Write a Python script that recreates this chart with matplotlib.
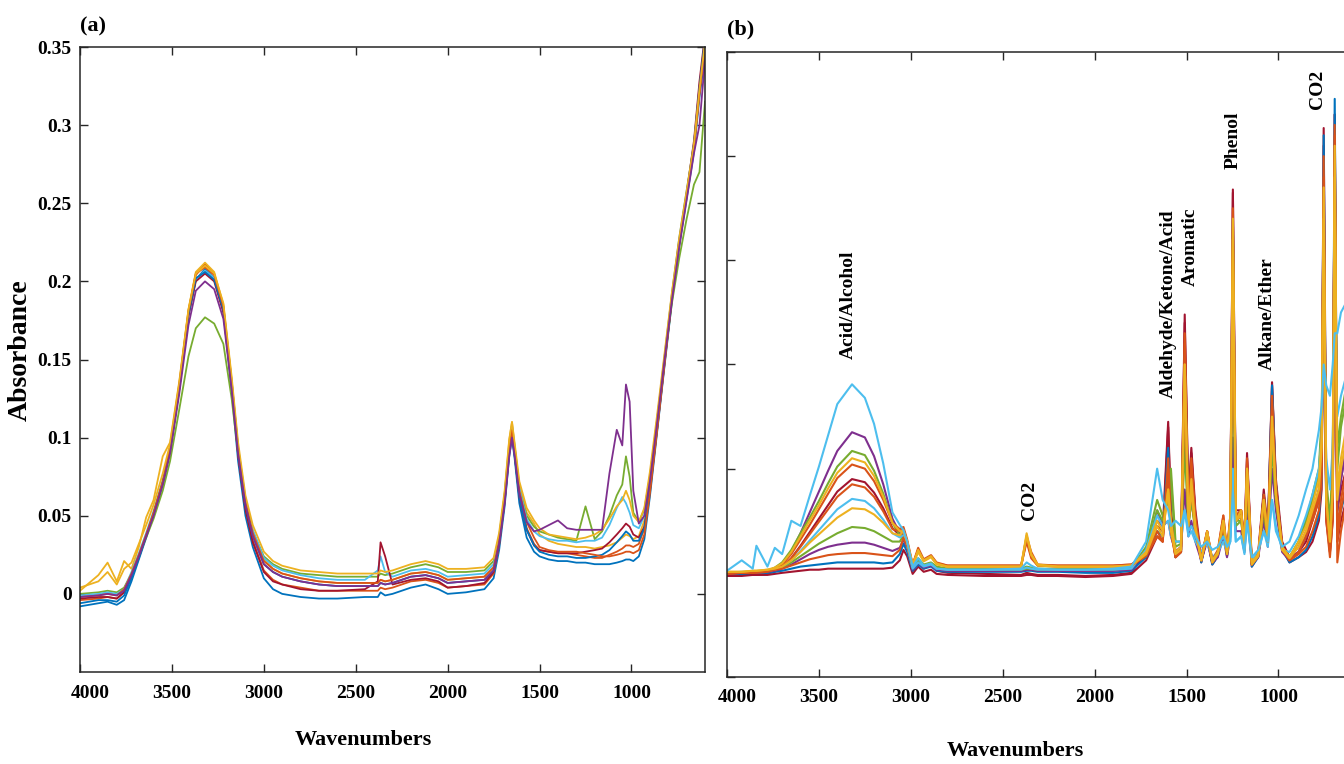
import matplotlib
matplotlib.use("Agg")
import matplotlib.pyplot as plt
from matplotlib.transforms import ScaledTranslation

plt.rcParams['font.family'] = ['Liberation Serif', 'DejaVu Serif']
plt.rcParams['font.weight'] = 'bold'

# ---------------- Panel (a) data ----------------
wn_a = [4000, 3900, 3850, 3800, 3760, 3720, 3680, 3640, 3600, 3550,
        3510, 3460, 3410, 3370, 3320, 3270, 3220, 3175, 3140, 3100,
        3060, 3000, 2950, 2900, 2800, 2700, 2600, 2450, 2380, 2365,
        2340, 2300, 2200, 2120, 2050, 2000, 1900, 1800, 1750, 1720,
        1690, 1665, 1650, 1635, 1610, 1570, 1530, 1500, 1450, 1400,
        1350, 1300, 1250, 1200, 1160, 1120, 1080, 1050, 1030, 1010,
        990, 960, 930, 900, 860, 820, 780, 740, 700, 660,
        630, 600]

a_blue1 = [-0.008, -0.006, -0.005, -0.007, -0.004, 0.008, 0.022, 0.036, 0.050, 0.070,
           0.091, 0.131, 0.178, 0.201, 0.208, 0.202, 0.181, 0.130, 0.085, 0.050,
           0.030, 0.010, 0.003, 0.000, -0.002, -0.003, -0.003, -0.002, -0.002, 0.001,
           -0.001, 0.000, 0.004, 0.006, 0.003, 0.000, 0.001, 0.003, 0.010, 0.028,
           0.056, 0.088, 0.100, 0.086, 0.058, 0.036, 0.027, 0.024, 0.022, 0.021,
           0.021, 0.020, 0.020, 0.019, 0.019, 0.019, 0.020, 0.021, 0.022, 0.022,
           0.021, 0.024, 0.035, 0.062, 0.104, 0.146, 0.187, 0.223, 0.253, 0.283,
           0.318, 0.345]
a_orange1 = [-0.004, -0.003, -0.002, -0.003, 0.001, 0.012, 0.024, 0.037, 0.051, 0.071,
             0.092, 0.132, 0.180, 0.204, 0.211, 0.205, 0.183, 0.134, 0.090, 0.055,
             0.034, 0.015, 0.009, 0.006, 0.004, 0.002, 0.002, 0.002, 0.002, 0.004,
             0.003, 0.004, 0.008, 0.009, 0.007, 0.004, 0.005, 0.006, 0.013, 0.031,
             0.059, 0.092, 0.104, 0.090, 0.063, 0.042, 0.032, 0.028, 0.027, 0.026,
             0.026, 0.025, 0.024, 0.023, 0.023, 0.025, 0.027, 0.029, 0.031, 0.031,
             0.030, 0.032, 0.042, 0.067, 0.108, 0.150, 0.190, 0.226, 0.256, 0.286,
             0.322, 0.352]
a_yellow1 = [0.002, 0.012, 0.020, 0.008, 0.021, 0.016, 0.030, 0.049, 0.060, 0.088,
             0.097, 0.136, 0.182, 0.206, 0.212, 0.206, 0.185, 0.137, 0.094, 0.060,
             0.040, 0.022, 0.016, 0.013, 0.010, 0.008, 0.007, 0.007, 0.007, 0.009,
             0.008, 0.009, 0.013, 0.014, 0.012, 0.009, 0.010, 0.011, 0.017, 0.035,
             0.064, 0.098, 0.110, 0.094, 0.070, 0.052, 0.045, 0.038, 0.034, 0.032,
             0.031, 0.030, 0.030, 0.029, 0.030, 0.031, 0.033, 0.036, 0.038, 0.037,
             0.035, 0.037, 0.047, 0.072, 0.112, 0.152, 0.192, 0.227, 0.257, 0.287,
             0.322, 0.352]
a_purple1 = [-0.002, -0.001, 0.000, -0.001, 0.002, 0.012, 0.024, 0.037, 0.050, 0.070,
             0.090, 0.128, 0.172, 0.194, 0.200, 0.195, 0.176, 0.131, 0.090, 0.057,
             0.037, 0.019, 0.014, 0.011, 0.008, 0.006, 0.005, 0.005, 0.005, 0.007,
             0.006, 0.007, 0.011, 0.012, 0.010, 0.007, 0.008, 0.009, 0.015, 0.032,
             0.058, 0.088, 0.100, 0.088, 0.064, 0.046, 0.040, 0.041, 0.044, 0.047,
             0.042, 0.041, 0.041, 0.041, 0.041, 0.077, 0.105, 0.095, 0.134, 0.123,
             0.066, 0.045, 0.050, 0.072, 0.110, 0.150, 0.188, 0.222, 0.252, 0.282,
             0.300, 0.342]
a_green1 = [0.000, 0.001, 0.002, 0.001, 0.004, 0.013, 0.024, 0.036, 0.048, 0.066,
            0.085, 0.118, 0.152, 0.170, 0.177, 0.173, 0.160, 0.125, 0.090, 0.058,
            0.040, 0.024, 0.019, 0.016, 0.013, 0.012, 0.011, 0.011, 0.011, 0.013,
            0.012, 0.013, 0.017, 0.019, 0.017, 0.014, 0.014, 0.015, 0.021, 0.037,
            0.063, 0.094, 0.106, 0.093, 0.068, 0.050, 0.043, 0.040, 0.038, 0.036,
            0.035, 0.034, 0.056, 0.035, 0.040, 0.050, 0.063, 0.070, 0.088, 0.075,
            0.052, 0.046, 0.054, 0.075, 0.112, 0.150, 0.186, 0.215, 0.240, 0.262,
            0.270, 0.315]
a_cyan1 = [-0.001, 0.000, 0.001, 0.000, 0.003, 0.014, 0.026, 0.039, 0.053, 0.073,
           0.093, 0.132, 0.179, 0.201, 0.207, 0.202, 0.183, 0.136, 0.094, 0.061,
           0.041, 0.023, 0.018, 0.015, 0.012, 0.010, 0.009, 0.009, 0.015, 0.024,
           0.014, 0.011, 0.015, 0.016, 0.014, 0.011, 0.012, 0.013, 0.019, 0.036,
           0.063, 0.096, 0.108, 0.094, 0.068, 0.048, 0.040, 0.037, 0.035, 0.034,
           0.034, 0.033, 0.034, 0.034, 0.036, 0.044, 0.055, 0.062, 0.058, 0.052,
           0.044, 0.042, 0.050, 0.073, 0.112, 0.152, 0.192, 0.228, 0.258, 0.288,
           0.325, 0.355]
a_red1 = [-0.003, -0.002, -0.002, -0.003, 0.001, 0.012, 0.024, 0.037, 0.051, 0.071,
          0.092, 0.131, 0.178, 0.200, 0.205, 0.200, 0.180, 0.133, 0.089, 0.054,
          0.033, 0.014, 0.008, 0.006, 0.003, 0.002, 0.002, 0.003, 0.008, 0.033,
          0.024, 0.006, 0.009, 0.010, 0.008, 0.004, 0.005, 0.007, 0.014, 0.032,
          0.060, 0.091, 0.102, 0.089, 0.062, 0.041, 0.031, 0.028, 0.027, 0.026,
          0.026, 0.026, 0.027, 0.028, 0.029, 0.033, 0.038, 0.042, 0.045, 0.043,
          0.038, 0.036, 0.043, 0.066, 0.106, 0.148, 0.190, 0.226, 0.256, 0.290,
          0.328, 0.358]
a_blue2 = [-0.006, -0.004, -0.004, -0.005, -0.001, 0.010, 0.023, 0.037, 0.051, 0.071,
           0.092, 0.132, 0.179, 0.202, 0.206, 0.201, 0.182, 0.134, 0.091, 0.057,
           0.037, 0.019, 0.014, 0.011, 0.008, 0.006, 0.005, 0.005, 0.005, 0.007,
           0.006, 0.007, 0.011, 0.012, 0.010, 0.007, 0.008, 0.009, 0.015, 0.032,
           0.059, 0.090, 0.102, 0.088, 0.062, 0.041, 0.031, 0.027, 0.025, 0.024,
           0.024, 0.023, 0.023, 0.024, 0.025, 0.028, 0.033, 0.037, 0.040, 0.038,
           0.034, 0.034, 0.042, 0.066, 0.106, 0.148, 0.189, 0.225, 0.256, 0.288,
           0.324, 0.356]
a_orange2 = [-0.002, -0.001, 0.000, -0.001, 0.003, 0.013, 0.025, 0.038, 0.052, 0.072,
             0.093, 0.134, 0.181, 0.205, 0.209, 0.204, 0.184, 0.136, 0.093, 0.059,
             0.039, 0.021, 0.016, 0.013, 0.010, 0.008, 0.007, 0.007, 0.007, 0.009,
             0.008, 0.009, 0.013, 0.014, 0.012, 0.009, 0.010, 0.011, 0.017, 0.034,
             0.061, 0.092, 0.105, 0.091, 0.066, 0.046, 0.036, 0.030, 0.028, 0.027,
             0.027, 0.027, 0.026, 0.025, 0.024, 0.024, 0.025, 0.026, 0.027, 0.027,
             0.026, 0.028, 0.038, 0.064, 0.105, 0.147, 0.189, 0.224, 0.255, 0.286,
             0.320, 0.350]
a_yellow2 = [0.004, 0.008, 0.014, 0.006, 0.016, 0.020, 0.032, 0.044, 0.057, 0.077,
             0.096, 0.135, 0.182, 0.205, 0.210, 0.205, 0.186, 0.139, 0.097, 0.063,
             0.044, 0.027, 0.021, 0.018, 0.015, 0.014, 0.013, 0.013, 0.013, 0.015,
             0.014, 0.015, 0.019, 0.021, 0.019, 0.016, 0.016, 0.017, 0.023, 0.039,
             0.066, 0.099, 0.110, 0.096, 0.072, 0.055, 0.047, 0.042, 0.038, 0.037,
             0.036, 0.035, 0.036, 0.038, 0.041, 0.048, 0.056, 0.060, 0.066, 0.060,
             0.050, 0.046, 0.055, 0.078, 0.115, 0.154, 0.193, 0.228, 0.258, 0.288,
             0.323, 0.353]

# ---------------- Panel (b) data ----------------
wn_b = [4000, 3920, 3860, 3840, 3780, 3740, 3700, 3650, 3600, 3550,
        3500, 3450, 3400, 3320, 3250, 3200, 3150, 3100, 3060, 3040,
        3020, 2990, 2960, 2930, 2890, 2860, 2800, 2600, 2400, 2370,
        2345, 2310, 2200, 2050, 1900, 1800, 1720, 1660, 1630, 1600,
        1585, 1560, 1530, 1510, 1490, 1474, 1452, 1420, 1388, 1360,
        1330, 1300, 1280, 1262, 1248, 1232, 1203, 1185, 1171, 1145,
        1110, 1080, 1058, 1035, 1014, 980, 940, 890, 850, 815,
        780, 765, 754, 740, 720, 705, 694, 680, 660, 630,
        600]

b_cyan1 = [0.002, 0.012, 0.004, 0.026, 0.006, 0.024, 0.018, 0.050, 0.045, 0.074,
           0.102, 0.132, 0.162, 0.181, 0.168, 0.143, 0.105, 0.058, 0.046, 0.041,
           0.030, 0.006, 0.014, 0.007, 0.009, 0.004, 0.003, 0.003, 0.004, 0.010,
           0.007, 0.004, 0.003, 0.003, 0.004, 0.006, 0.030, 0.100, 0.070, 0.060,
           0.045, 0.050, 0.045, 0.060, 0.040, 0.045, 0.035, 0.025, 0.030, 0.022,
           0.025, 0.035, 0.025, 0.030, 0.080, 0.030, 0.035, 0.020, 0.050, 0.015,
           0.022, 0.040, 0.030, 0.070, 0.040, 0.025, 0.030, 0.055, 0.080, 0.100,
           0.137, 0.160, 0.200, 0.180, 0.170, 0.200, 0.230, 0.230, 0.250, 0.260,
           0.265]
b_purple1 = [-0.001, 0.000, 0.000, 0.001, 0.002, 0.004, 0.008, 0.020, 0.038, 0.058,
             0.078, 0.098, 0.117, 0.135, 0.130, 0.112, 0.085, 0.052, 0.038, 0.036,
             0.028, 0.004, 0.010, 0.006, 0.008, 0.004, 0.002, 0.002, 0.002, 0.003,
             0.003, 0.002, 0.002, 0.002, 0.002, 0.004, 0.020, 0.060, 0.045, 0.050,
             0.035, 0.020, 0.025, 0.080, 0.035, 0.050, 0.030, 0.012, 0.030, 0.010,
             0.015, 0.035, 0.015, 0.035, 0.130, 0.040, 0.040, 0.020, 0.060, 0.008,
             0.015, 0.050, 0.025, 0.100, 0.060, 0.020, 0.012, 0.020, 0.035, 0.055,
             0.080, 0.110, 0.250, 0.060, 0.030, 0.060, 0.280, 0.070, 0.090, 0.120,
             0.140]
b_green1 = [0.000, 0.000, 0.001, 0.001, 0.002, 0.005, 0.010, 0.022, 0.038, 0.053,
            0.069, 0.086, 0.102, 0.117, 0.113, 0.098, 0.076, 0.048, 0.036, 0.035,
            0.027, 0.005, 0.012, 0.007, 0.009, 0.005, 0.003, 0.003, 0.003, 0.004,
            0.004, 0.003, 0.003, 0.003, 0.003, 0.005, 0.025, 0.070, 0.055, 0.070,
            0.100, 0.030, 0.030, 0.120, 0.045, 0.070, 0.040, 0.015, 0.035, 0.012,
            0.018, 0.045, 0.020, 0.045, 0.220, 0.050, 0.050, 0.025, 0.080, 0.010,
            0.018, 0.060, 0.030, 0.120, 0.070, 0.025, 0.015, 0.030, 0.050, 0.075,
            0.100, 0.150, 0.300, 0.080, 0.040, 0.090, 0.330, 0.100, 0.140, 0.170,
            0.190]
b_yellow1 = [0.001, 0.001, 0.002, 0.002, 0.003, 0.005, 0.009, 0.020, 0.035, 0.050,
             0.065, 0.081, 0.096, 0.110, 0.106, 0.093, 0.073, 0.048, 0.040, 0.040,
             0.030, 0.008, 0.022, 0.012, 0.016, 0.009, 0.006, 0.006, 0.006, 0.038,
             0.018, 0.008, 0.006, 0.006, 0.006, 0.007, 0.020, 0.050, 0.040, 0.080,
             0.050, 0.020, 0.025, 0.200, 0.050, 0.090, 0.045, 0.012, 0.040, 0.012,
             0.020, 0.050, 0.020, 0.050, 0.320, 0.050, 0.060, 0.025, 0.100, 0.010,
             0.018, 0.070, 0.035, 0.140, 0.075, 0.025, 0.015, 0.030, 0.045, 0.065,
             0.090, 0.130, 0.340, 0.070, 0.030, 0.080, 0.380, 0.080, 0.110, 0.140,
             0.160]
b_orange1 = [-0.001, 0.000, 0.000, 0.001, 0.002, 0.004, 0.008, 0.018, 0.032, 0.046,
             0.061, 0.076, 0.091, 0.104, 0.100, 0.088, 0.070, 0.048, 0.042, 0.044,
             0.032, 0.008, 0.024, 0.013, 0.017, 0.010, 0.007, 0.007, 0.007, 0.035,
             0.020, 0.008, 0.007, 0.007, 0.007, 0.008, 0.018, 0.040, 0.030, 0.100,
             0.040, 0.015, 0.020, 0.220, 0.050, 0.100, 0.050, 0.012, 0.040, 0.012,
             0.022, 0.055, 0.020, 0.055, 0.330, 0.055, 0.060, 0.025, 0.100, 0.008,
             0.018, 0.075, 0.035, 0.160, 0.080, 0.025, 0.015, 0.025, 0.040, 0.055,
             0.075, 0.110, 0.380, 0.060, 0.025, 0.070, 0.420, 0.040, 0.070, 0.100,
             0.120]
b_red1 = [-0.003, -0.002, -0.002, -0.002, -0.001, 0.001, 0.005, 0.014, 0.026, 0.039,
          0.052, 0.065, 0.078, 0.090, 0.087, 0.077, 0.062, 0.043, 0.036, 0.038,
          0.027, 0.002, 0.012, 0.004, 0.008, 0.002, 0.000, -0.001, -0.002, 0.000,
          -0.001, -0.002, -0.002, -0.003, -0.002, 0.000, 0.020, 0.045, 0.040, 0.145,
          0.060, 0.020, 0.025, 0.248, 0.070, 0.120, 0.060, 0.015, 0.040, 0.012,
          0.020, 0.050, 0.020, 0.050, 0.368, 0.060, 0.060, 0.030, 0.115, 0.010,
          0.020, 0.080, 0.040, 0.183, 0.090, 0.030, 0.015, 0.020, 0.030, 0.050,
          0.070, 0.100, 0.427, 0.080, 0.030, 0.060, 0.440, 0.060, 0.080, 0.100,
          0.110]
b_orange2 = [-0.001, 0.000, 0.000, 0.000, 0.001, 0.003, 0.006, 0.014, 0.025, 0.037,
             0.049, 0.061, 0.073, 0.085, 0.082, 0.073, 0.059, 0.042, 0.040, 0.042,
             0.030, 0.007, 0.022, 0.012, 0.016, 0.009, 0.006, 0.006, 0.006, 0.032,
             0.016, 0.007, 0.006, 0.006, 0.006, 0.007, 0.016, 0.035, 0.030, 0.090,
             0.040, 0.015, 0.020, 0.180, 0.045, 0.080, 0.040, 0.012, 0.035, 0.010,
             0.018, 0.045, 0.018, 0.045, 0.300, 0.050, 0.055, 0.022, 0.090, 0.008,
             0.016, 0.065, 0.030, 0.150, 0.075, 0.022, 0.012, 0.020, 0.035, 0.050,
             0.070, 0.100, 0.360, 0.060, 0.020, 0.060, 0.400, 0.030, 0.060, 0.090,
             0.110]
b_cyan2 = [0.000, 0.001, 0.001, 0.001, 0.002, 0.003, 0.006, 0.012, 0.021, 0.031,
           0.041, 0.051, 0.061, 0.071, 0.069, 0.062, 0.051, 0.038, 0.034, 0.036,
           0.026, 0.004, 0.010, 0.006, 0.008, 0.004, 0.003, 0.003, 0.003, 0.005,
           0.004, 0.003, 0.003, 0.003, 0.003, 0.004, 0.022, 0.055, 0.045, 0.050,
           0.035, 0.030, 0.030, 0.060, 0.035, 0.040, 0.030, 0.020, 0.028, 0.015,
           0.020, 0.030, 0.020, 0.030, 0.100, 0.030, 0.035, 0.018, 0.050, 0.012,
           0.020, 0.040, 0.025, 0.070, 0.045, 0.022, 0.020, 0.035, 0.055, 0.075,
           0.100, 0.130, 0.220, 0.110, 0.080, 0.120, 0.250, 0.150, 0.170, 0.190,
           0.200]
b_yellow2 = [0.001, 0.001, 0.002, 0.002, 0.003, 0.004, 0.006, 0.012, 0.020, 0.029,
             0.037, 0.045, 0.053, 0.062, 0.061, 0.056, 0.048, 0.038, 0.036, 0.040,
             0.029, 0.007, 0.020, 0.011, 0.015, 0.008, 0.006, 0.006, 0.006, 0.036,
             0.017, 0.007, 0.006, 0.006, 0.006, 0.007, 0.018, 0.045, 0.035, 0.080,
             0.040, 0.018, 0.022, 0.200, 0.045, 0.080, 0.040, 0.012, 0.038, 0.010,
             0.018, 0.050, 0.018, 0.050, 0.340, 0.050, 0.055, 0.022, 0.100, 0.008,
             0.016, 0.070, 0.030, 0.150, 0.075, 0.022, 0.014, 0.025, 0.040, 0.060,
             0.080, 0.120, 0.370, 0.070, 0.030, 0.080, 0.410, 0.070, 0.100, 0.130,
             0.150]
b_green2 = [0.000, 0.000, 0.001, 0.001, 0.002, 0.003, 0.005, 0.010, 0.016, 0.022,
            0.028, 0.033, 0.038, 0.044, 0.043, 0.040, 0.035, 0.030, 0.030, 0.036,
            0.026, 0.005, 0.014, 0.008, 0.010, 0.006, 0.004, 0.004, 0.004, 0.006,
            0.005, 0.004, 0.004, 0.004, 0.004, 0.005, 0.020, 0.060, 0.050, 0.070,
            0.090, 0.025, 0.028, 0.140, 0.045, 0.070, 0.040, 0.015, 0.035, 0.012,
            0.018, 0.045, 0.018, 0.045, 0.260, 0.045, 0.050, 0.022, 0.080, 0.010,
            0.018, 0.060, 0.028, 0.130, 0.070, 0.022, 0.015, 0.030, 0.050, 0.070,
            0.095, 0.140, 0.320, 0.090, 0.050, 0.110, 0.360, 0.120, 0.150, 0.180,
            0.200]
b_purple2 = [-0.001, 0.000, 0.000, 0.000, 0.001, 0.002, 0.004, 0.008, 0.013, 0.018,
             0.022, 0.025, 0.027, 0.029, 0.029, 0.027, 0.024, 0.021, 0.024, 0.032,
             0.024, 0.003, 0.010, 0.005, 0.007, 0.003, 0.002, 0.002, 0.002, 0.003,
             0.003, 0.002, 0.002, 0.002, 0.002, 0.003, 0.022, 0.050, 0.045, 0.090,
             0.045, 0.018, 0.022, 0.170, 0.050, 0.090, 0.045, 0.012, 0.035, 0.010,
             0.018, 0.045, 0.018, 0.045, 0.300, 0.050, 0.055, 0.022, 0.090, 0.008,
             0.016, 0.065, 0.030, 0.150, 0.075, 0.022, 0.012, 0.020, 0.035, 0.055,
             0.080, 0.110, 0.350, 0.070, 0.025, 0.070, 0.390, 0.060, 0.090, 0.120,
             0.140]
b_orange3 = [0.000, 0.000, 0.001, 0.001, 0.002, 0.003, 0.004, 0.007, 0.010, 0.013,
             0.015, 0.017, 0.018, 0.019, 0.019, 0.018, 0.017, 0.016, 0.022, 0.034,
             0.026, 0.008, 0.022, 0.012, 0.016, 0.009, 0.007, 0.007, 0.007, 0.030,
             0.014, 0.007, 0.007, 0.007, 0.007, 0.008, 0.018, 0.035, 0.030, 0.110,
             0.050, 0.015, 0.020, 0.230, 0.055, 0.110, 0.055, 0.012, 0.040, 0.010,
             0.020, 0.055, 0.020, 0.055, 0.350, 0.055, 0.060, 0.025, 0.110, 0.008,
             0.018, 0.075, 0.035, 0.170, 0.085, 0.025, 0.012, 0.018, 0.025, 0.040,
             0.060, 0.090, 0.400, 0.050, 0.015, 0.050, 0.430, 0.010, 0.040, 0.070,
             0.090]
b_blue1 = [-0.001, -0.001, 0.000, 0.000, 0.000, 0.001, 0.002, 0.004, 0.006, 0.007,
           0.008, 0.009, 0.010, 0.010, 0.010, 0.010, 0.009, 0.010, 0.018, 0.028,
           0.020, 0.002, 0.008, 0.004, 0.006, 0.002, 0.001, 0.001, 0.001, 0.002,
           0.002, 0.001, 0.001, 0.000, 0.000, 0.002, 0.015, 0.040, 0.035, 0.120,
           0.050, 0.015, 0.020, 0.210, 0.060, 0.100, 0.050, 0.010, 0.035, 0.008,
           0.016, 0.050, 0.016, 0.050, 0.340, 0.050, 0.055, 0.022, 0.100, 0.006,
           0.015, 0.075, 0.035, 0.180, 0.085, 0.022, 0.010, 0.015, 0.022, 0.035,
           0.055, 0.090, 0.420, 0.060, 0.024, 0.080, 0.455, 0.050, 0.060, 0.080,
           0.090]
b_red2 = [-0.003, -0.003, -0.002, -0.002, -0.002, -0.001, 0.000, 0.001, 0.002, 0.003,
          0.003, 0.004, 0.004, 0.004, 0.004, 0.004, 0.004, 0.005, 0.012, 0.022,
          0.016, -0.001, 0.006, 0.001, 0.003, -0.001, -0.002, -0.003, -0.003, -0.002,
          -0.002, -0.003, -0.003, -0.004, -0.003, -0.001, 0.012, 0.035, 0.030, 0.140,
          0.055, 0.015, 0.022, 0.240, 0.065, 0.115, 0.055, 0.010, 0.035, 0.008,
          0.016, 0.050, 0.016, 0.050, 0.365, 0.055, 0.058, 0.025, 0.110, 0.006,
          0.016, 0.075, 0.035, 0.180, 0.085, 0.025, 0.010, 0.015, 0.020, 0.030,
          0.050, 0.080, 0.410, 0.050, 0.020, 0.050, 0.440, 0.030, 0.050, 0.070,
          0.080]

# tick labels and annotations
x_ticks = [4000, 3500, 3000, 2500, 2000, 1500, 1000]
x_tick_labels = ['4000', '3500', '3000', '2500', '2000', '1500', '1000']
y_ticks_a = [0, 0.05, 0.1, 0.15, 0.2, 0.25, 0.3, 0.35]
y_tick_labels_a = ['0', '0.05', '0.1', '0.15', '0.2', '0.25', '0.3', '0.35']
y_ticks_b = [-0.1, 0.0, 0.1, 0.2, 0.3, 0.4, 0.5]
band_labels = ['Acid/Alcohol', 'CO2', 'Aldehyde/Ketone/Acid', 'Aromatic',
               'Phenol', 'Alkane/Ether', 'CO2']
band_wn = [3342, 2352, 1601, 1481, 1247, 1062, 790]
band_y = [0.205, 0.051, 0.168, 0.275, 0.388, 0.195, 0.445]

# MATLAB default color order
BLUE, ORANGE, YELLOW, PURPLE = '#0072BD', '#D95319', '#EDB120', '#7E2F8E'
GREEN, CYAN, RED = '#77AC30', '#4DBEEE', '#A2142F'

series_a = [(a_blue1, BLUE), (a_orange1, ORANGE), (a_yellow1, YELLOW),
            (a_green1, GREEN), (a_cyan1, CYAN), (a_red1, RED),
            (a_blue2, BLUE), (a_orange2, ORANGE), (a_yellow2, YELLOW),
            (a_purple1, PURPLE)]
series_b = [(b_red2, RED), (b_red1, RED), (b_blue1, BLUE),
            (b_purple2, PURPLE), (b_purple1, PURPLE), (b_green2, GREEN),
            (b_green1, GREEN), (b_cyan2, CYAN), (b_orange3, ORANGE),
            (b_orange1, ORANGE), (b_orange2, ORANGE), (b_yellow1, YELLOW),
            (b_yellow2, YELLOW), (b_cyan1, CYAN)]

for s, _ in series_a:
    assert len(s) == len(wn_a), len(s)
for s, _ in series_b:
    assert len(s) == len(wn_b), len(s)

W, H = 1344, 764
fig = plt.figure(figsize=(W / 100, H / 100), dpi=100)
ax_a = fig.add_axes([80 / W, (H - 672) / H, 625 / W, 625 / H])
ax_b = fig.add_axes([727 / W, (H - 677) / H, 625 / W, 625 / H])

for y, c in series_a:
    ax_a.plot(wn_a, y, color=c, lw=1.3)
for y, c in series_b:
    ax_b.plot(wn_b, y, color=c, lw=1.5)

AX_COLOR = '#262626'
for ax in (ax_a, ax_b):
    ax.set_xlim(4000, 600)
    ax.set_xticks(x_ticks)
    ax.set_xticklabels(x_tick_labels)
    for sp in ax.spines.values():
        sp.set_color(AX_COLOR)
        sp.set_linewidth(1.1)
    ax.tick_params(direction='in', length=6, width=1, top=True, right=True,
                   colors=AX_COLOR, labelcolor='black', labelsize=14)
    ax.tick_params(axis='x', pad=9)
    ax.tick_params(axis='y', pad=6)
    for lbl in ax.get_xticklabels() + ax.get_yticklabels():
        lbl.set_fontweight('bold')
    first = ax.get_xticklabels()[0]
    first.set_transform(first.get_transform() +
                        ScaledTranslation(0.10, 0, fig.dpi_scale_trans))

ax_a.set_ylim(-0.05, 0.35)
ax_a.set_yticks(y_ticks_a)
ax_a.set_yticklabels(y_tick_labels_a)
for lbl in ax_a.get_yticklabels():
    lbl.set_fontweight('bold')

ax_b.set_ylim(-0.1, 0.5)
ax_b.set_yticks(y_ticks_b)
ax_b.tick_params(axis='y', labelleft=False)

ax_a.set_xlabel('Wavenumbers', fontsize=16, fontweight='bold')
ax_a.xaxis.set_label_coords(0.453, -0.093)
ax_a.set_ylabel('Absorbance', fontsize=20, fontweight='bold')
ax_a.yaxis.set_label_coords(-0.075, 0.515)
ax_b.set_xlabel('Wavenumbers', fontsize=16, fontweight='bold')
ax_b.xaxis.set_label_coords(0.461, -0.102)

for txt, xw, yv in zip(band_labels, band_wn, band_y):
    ax_b.text(xw, yv, txt, rotation=90, ha='center', va='bottom',
              fontsize=14, fontweight='bold', color='black')

fig.text(80 / W, 1 - 26 / H, '(a)', fontsize=16, fontweight='bold',
         ha='left', va='center')
fig.text(727 / W, 1 - 29 / H, '(b)', fontsize=16, fontweight='bold',
         ha='left', va='center')

fig.savefig('out.png', dpi=100)
